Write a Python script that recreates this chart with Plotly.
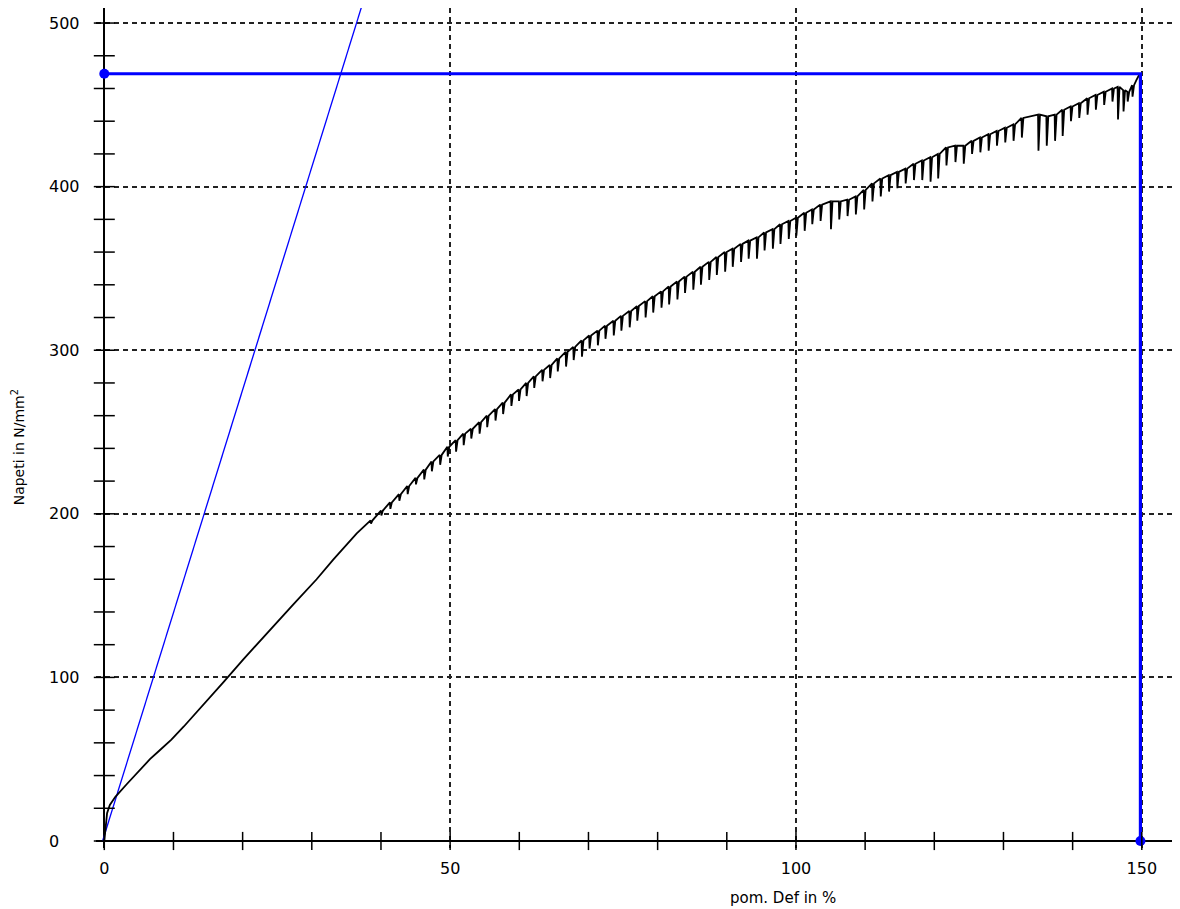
import plotly.graph_objects as go

# ---------------- data ----------------
# smooth initial part of the stress-strain curve
base_strain = [0, 0.2, 0.4, 0.8, 1.6, 3.3, 5.2, 6.6, 7.9, 9.7, 11.5, 14.5,
               17.2, 20.1, 23.5, 27.4, 30.7, 33.1, 36.5]
base_stress = [0, 8, 17, 22, 27, 35, 44, 50, 55, 62, 70, 84,
               97, 111, 127, 145, 160, 172, 188]

# serrated part: position of each drop, level before the drop, level at the bottom
dip_strain = [38.5, 40.0, 41.3, 42.6, 43.8, 45.0, 46.2, 47.3, 48.5, 49.6,
              50.8, 51.9, 53.0, 54.2, 55.3, 56.5, 57.6, 58.8, 59.9, 61.0,
              62.1, 63.3, 64.4, 65.5, 66.7, 67.8, 69.0, 70.1, 71.3, 72.4,
              73.6, 74.7, 75.9, 77.0, 78.2, 79.3, 80.5, 81.6, 82.8, 83.9,
              85.1, 86.2, 87.4, 88.5, 89.7, 90.8, 92.0, 93.1, 94.3, 95.4,
              96.6, 97.7, 98.9, 100.0, 101.2, 102.3, 103.5, 105.0, 106.2, 107.4,
              108.6, 109.8, 111.0, 112.2, 113.4, 114.6, 115.8, 117.0, 118.2, 119.4,
              120.5, 121.7, 123.0, 124.2, 125.4, 126.6, 127.8, 129.0, 130.2, 131.4,
              132.6, 135.0, 136.2, 137.4, 138.5, 139.7, 140.9, 142.1, 143.3, 144.5,
              145.7, 146.5, 147.3, 147.9, 148.6]
dip_top = [196, 202, 207, 212, 217, 222, 227, 232, 236, 241,
           245, 249, 252, 256, 260, 264, 268, 273, 276, 280,
           284, 288, 291, 295, 299, 302, 306, 309, 312, 315,
           318, 321, 324, 327, 330, 333, 336, 339, 342, 345,
           348, 351, 354, 357, 360, 362, 365, 367, 369, 372,
           374, 377, 379, 381, 384, 386, 389, 391, 391, 392,
           394, 398, 402, 405, 407, 409, 411, 414, 416, 418,
           420, 424, 425, 425, 428, 430, 432, 434, 436, 438,
           442, 444, 443, 444, 447, 449, 451, 454, 456, 458,
           460, 461, 459, 458, 462]
dip_bottom = [194, 199, 203, 208, 212, 218, 221, 226, 230, 235,
              238, 242, 246, 249, 253, 257, 261, 266, 269, 272,
              277, 281, 283, 287, 290, 294, 296, 301, 303, 307,
              309, 312, 314, 318, 320, 323, 326, 328, 331, 335,
              337, 340, 343, 346, 348, 351, 354, 356, 356, 361,
              362, 365, 368, 370, 373, 377, 379, 374, 380, 382,
              383, 386, 391, 394, 397, 399, 402, 404, 404, 403,
              405, 413, 415, 414, 420, 421, 422, 425, 427, 428,
              430, 422, 425, 428, 431, 440, 442, 444, 447, 450,
              452, 441, 446, 452, 455]

end_strain = [149.2, 149.7]
end_stress = [465, 469]

# blue construction lines
slope_strain = [-0.25, 37.2]
slope_stress = [0, 510]
max_strain = 149.8
max_stress = 469

x_tick_vals = [0, 50, 100, 150]
y_tick_vals = [0, 100, 200, 300, 400, 500]
x_minor = [0, 10, 20, 30, 40, 50, 60, 70, 80, 90, 100, 110, 120, 130, 140, 150]
y_minor = [0, 20, 40, 60, 80, 100, 120, 140, 160, 180, 200, 220, 240, 260, 280,
           300, 320, 340, 360, 380, 400, 420, 440, 460, 480, 500]

# assemble black curve from the read values
strain = list(base_strain)
stress = list(base_stress)
for sx, top, bot in zip(dip_strain, dip_top, dip_bottom):
    strain += [sx, sx + 0.06, sx + 0.28]
    stress += [top, bot, top]
strain += end_strain
stress += end_stress

FONT = "DejaVu Sans"
BLUE = "#0000FF"

# page body has an 8px default offset; margins compensate so the plot area
# sits at x 96..1175, y 8..848 of the window
ML, MR, MT, MB = 88, 13, 0, 69
PW = 1180 - ML - MR

fig = go.Figure()

fig.add_trace(go.Scatter(x=slope_strain, y=slope_stress, mode="lines",
                         line=dict(color=BLUE, width=1.3), hoverinfo="skip"))
fig.add_trace(go.Scatter(x=strain, y=stress, mode="lines",
                         line=dict(color="black", width=1.8), hoverinfo="skip"))
fig.add_trace(go.Scatter(x=[0, max_strain, max_strain], y=[max_stress, max_stress, 0],
                         mode="lines", line=dict(color=BLUE, width=3.2),
                         hoverinfo="skip", cliponaxis=False))
fig.add_trace(go.Scatter(x=[0, max_strain], y=[max_stress, 0], mode="markers",
                         marker=dict(color=BLUE, size=10), hoverinfo="skip",
                         cliponaxis=False))
fig.add_trace(go.Scatter(x=x_minor, y=[0] * len(x_minor), mode="markers",
                         marker=dict(symbol="line-ns", size=13,
                                     line=dict(color="black", width=1.5)),
                         hoverinfo="skip", cliponaxis=False))
fig.add_trace(go.Scatter(x=[0] * len(y_minor), y=y_minor, mode="markers",
                         marker=dict(symbol="line-ew", size=15,
                                     line=dict(color="black", width=1.5)),
                         hoverinfo="skip", cliponaxis=False))

annotations = []
for v in y_tick_vals:
    annotations.append(dict(x=0, xref="paper", xanchor="left", xshift=-49,
                            y=v, yref="y", yanchor="middle", text=str(v),
                            showarrow=False, font=dict(family=FONT, size=16, color="black")))
annotations.append(dict(x=(783 - 96) / PW, xref="paper", xanchor="center",
                        y=0, yref="paper", yanchor="middle", yshift=-50,
                        text="pom. Def in %", showarrow=False,
                        font=dict(family=FONT, size=15, color="black")))
annotations.append(dict(x=0, xref="paper", xanchor="center", xshift=-78,
                        y=0.477, yref="paper", yanchor="middle",
                        text="Napeti in N/mm<sup>2</sup>", textangle=-90, showarrow=False,
                        font=dict(family=FONT, size=14, color="black")))

fig.update_layout(
    width=1180, height=909,
    margin=dict(l=ML, r=MR, t=MT, b=MB),
    paper_bgcolor="white", plot_bgcolor="white",
    showlegend=False,
    annotations=annotations,
    xaxis=dict(range=[-1.2, 154.8], tickvals=x_tick_vals, ticktext=[str(v) for v in x_tick_vals],
               showgrid=True, gridcolor="#222222", gridwidth=1.5, griddash="5px,4px",
               zeroline=True, zerolinecolor="black", zerolinewidth=2,
               showline=False, ticks="outside", ticklen=6, tickcolor="rgba(0,0,0,0)",
               tickfont=dict(family=FONT, size=16, color="black")),
    yaxis=dict(range=[-4.28, 509.2], tickvals=y_tick_vals,
               showgrid=True, gridcolor="#222222", gridwidth=1.5, griddash="5px,4px",
               zeroline=True, zerolinecolor="black", zerolinewidth=2,
               showline=False, showticklabels=False),
)

fig.write_html("out.html")
